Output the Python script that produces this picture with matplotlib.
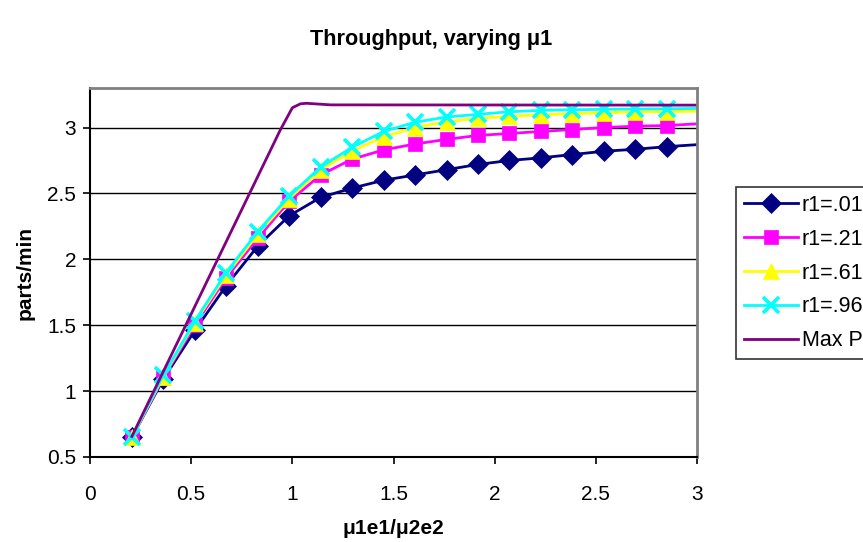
import matplotlib
matplotlib.use("Agg")
import matplotlib.pyplot as plt

plt.rcParams["font.family"] = ["Liberation Sans", "DejaVu Sans"]

# -----------------------------
# Data
# -----------------------------
ratio = [0.207, 0.362, 0.518, 0.673, 0.829, 0.984, 1.14, 1.295, 1.451,
         1.606, 1.762, 1.917, 2.073, 2.228, 2.384, 2.539, 2.695, 2.850, 3.0]

r1_01 = [0.65, 1.09, 1.46, 1.80, 2.10, 2.33, 2.47, 2.54, 2.60,
         2.64, 2.68, 2.72, 2.75, 2.77, 2.795, 2.82, 2.835, 2.855, 2.87]
r1_21 = [0.65, 1.10, 1.50, 1.86, 2.16, 2.44, 2.64, 2.76, 2.83,
         2.875, 2.91, 2.94, 2.955, 2.97, 2.985, 3.00, 3.01, 3.015, 3.028]
r1_61 = [0.65, 1.11, 1.52, 1.88, 2.19, 2.46, 2.68, 2.82, 2.93,
         3.00, 3.045, 3.07, 3.085, 3.097, 3.105, 3.112, 3.118, 3.121, 3.124]
r1_96 = [0.65, 1.12, 1.53, 1.90, 2.21, 2.48, 2.70, 2.85, 2.97,
         3.04, 3.08, 3.10, 3.12, 3.13, 3.135, 3.138, 3.14, 3.142, 3.145]

maxp_x = [0.207, 0.94, 1.0, 1.04, 1.07, 1.19, 3.0]
maxp_y = [0.656, 2.98, 3.15, 3.18, 3.184, 3.172, 3.17]

series = [
    ("r1=.01", r1_01, "#000080", "D", 10),
    ("r1=.21", r1_21, "#FF00FF", "s", 10.5),
    ("r1=.61", r1_61, "#FFFF00", "^", 11.5),
    ("r1=.96", r1_96, "#00FFFF", "x", 11),
]

# -----------------------------
# Plot
# -----------------------------
fig = plt.figure(figsize=(8.63, 5.42), dpi=100)
ax = fig.add_axes([90 / 863, 1 - 457 / 542, 607 / 863, 369 / 542])

# last point sits on the right edge, no marker there
marks = list(range(len(ratio) - 1))

for label, vals, color, marker, ms in series:
    ax.plot(
        ratio,
        vals,
        color=color,
        linewidth=2.0,
        marker=marker,
        markersize=ms,
        markeredgewidth=2.6 if marker == "x" else 0.5,
        markeredgecolor=color,
        markerfacecolor=color,
        markevery=marks,
        label=label,
    )

ax.plot(maxp_x, maxp_y, color="#800080", linewidth=2.0, label="Max P")

ax.set_xlim(0, 3)
ax.set_ylim(0.5, 3.3)
ax.set_xticks([0, 0.5, 1, 1.5, 2, 2.5, 3])
ax.set_xticklabels(["0", "0.5", "1", "1.5", "2", "2.5", "3"])
ax.set_yticks([0.5, 1, 1.5, 2, 2.5, 3])
ax.set_yticklabels(["0.5", "1", "1.5", "2", "2.5", "3"])

ax.grid(True, axis="y", color="black", linewidth=1.0)
ax.set_axisbelow(True)

ax.tick_params(axis="both", direction="out", length=5, width=1.2,
               labelsize=15, color="black")
ax.tick_params(axis="x", pad=15)
ax.tick_params(axis="y", pad=5)

for side in ["left", "bottom"]:
    ax.spines[side].set_color("black")
    ax.spines[side].set_linewidth(1.5)
for side in ["top", "right"]:
    ax.spines[side].set_color("#808080")
    ax.spines[side].set_linewidth(2.0)

ax.set_xlabel("\u03bc1e1/\u03bc2e2", fontsize=15, fontweight="bold",
              labelpad=11)
ax.set_ylabel("parts/min", fontsize=15, fontweight="bold", labelpad=9)

fig.text(0.5, 1 - 40 / 542, "Throughput, varying \u03bc1", ha="center",
         va="center", fontsize=15.6, fontweight="bold")

handles, labels = ax.get_legend_handles_labels()
leg = fig.legend(
    handles,
    labels,
    loc="upper left",
    bbox_to_anchor=(736 / 863, 1 - 187 / 542),
    fontsize=15.5,
    frameon=True,
    fancybox=False,
    edgecolor="black",
    borderpad=0.36,
    labelspacing=0.6,
    handlelength=2.5,
    handletextpad=0.2,
    borderaxespad=0,
)
leg.get_frame().set_linewidth(1.2)

fig.savefig("out.png", dpi=100)
